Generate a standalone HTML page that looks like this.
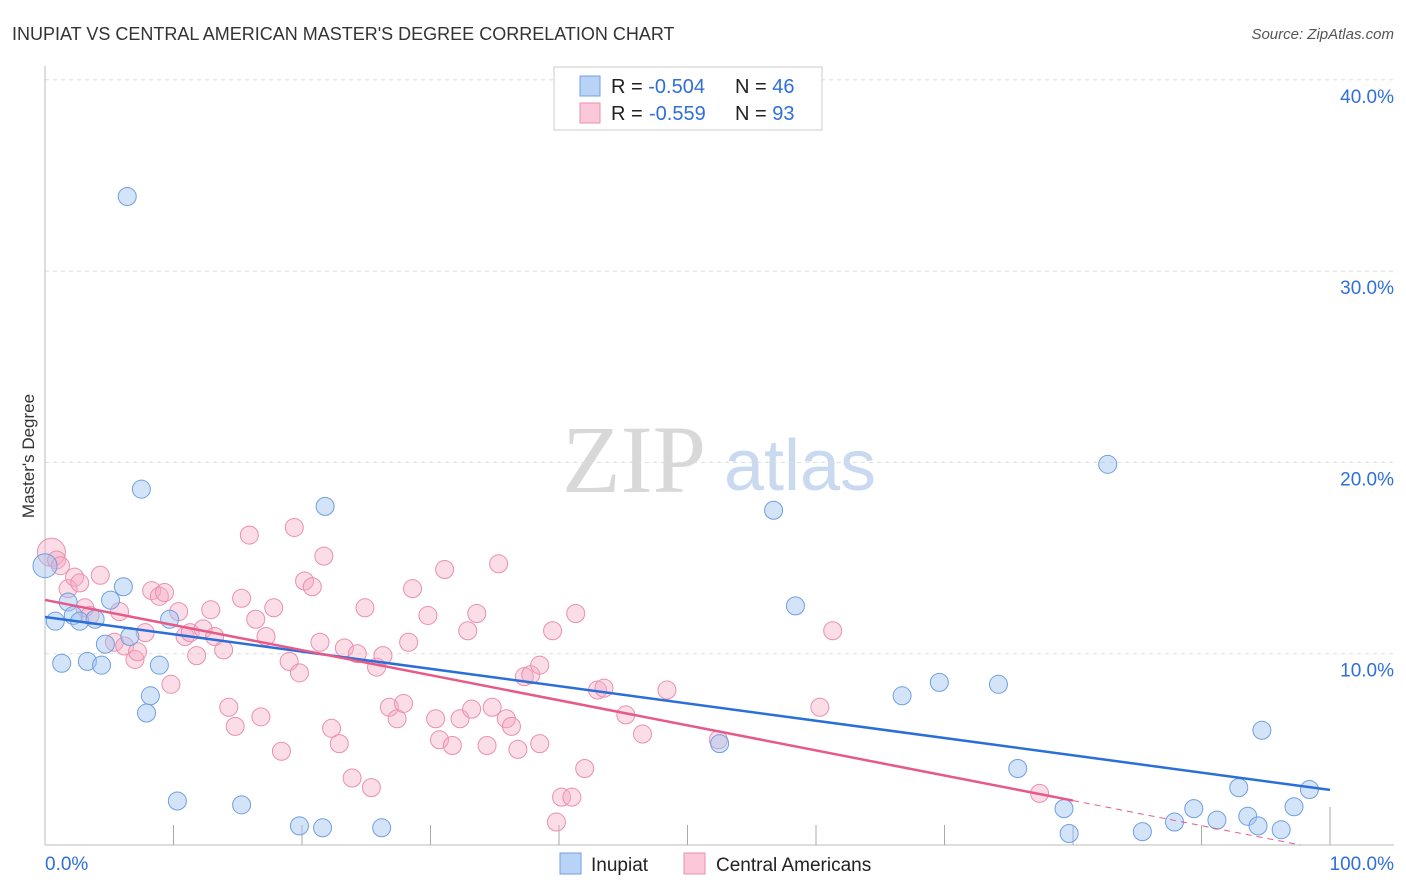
<!DOCTYPE html>
<html><head><meta charset="utf-8"><style>
body{margin:0;background:#fff;font-family:"Liberation Sans",sans-serif;}
#wrap{position:relative;width:1406px;height:892px;overflow:hidden;}
</style></head><body>
<div id="wrap">
<svg id="svg" width="1406" height="892" xmlns="http://www.w3.org/2000/svg">
<text x="12" y="40" font-size="18" fill="#333">INUPIAT VS CENTRAL AMERICAN MASTER'S DEGREE CORRELATION CHART</text>
<text x="1394" y="39" font-size="15" fill="#555" font-style="italic" text-anchor="end">Source: ZipAtlas.com</text>
<text x="34" y="456" font-size="17" fill="#333" text-anchor="middle" transform="rotate(-90 34 456)">Master's Degree</text>
<text x="634" y="492" font-size="96" fill="#d8d8d8" font-family="Liberation Serif,serif" text-anchor="middle">ZIP</text>
<text x="800" y="490" font-size="72" fill="#c9d9f0" text-anchor="middle">atlas</text>
<g id="grid"></g><g id="marks"></g>
<rect x="554" y="67" width="268" height="63" fill="#fff" stroke="#ccc"/>
<rect x="580" y="76" width="20" height="20" fill="#b8d3f5" stroke="#6f9fe0"/>
<rect x="580" y="103" width="20" height="20" fill="#fac8d8" stroke="#eb8fae"/>
<text x="611" y="93" font-size="20" fill="#222">R = <tspan fill="#2e6fd8">-0.504</tspan><tspan x="735">N = </tspan><tspan fill="#2e6fd8">46</tspan></text>
<text x="611" y="120" font-size="20" fill="#222">R = <tspan x="649" fill="#2e6fd8">-0.559</tspan><tspan x="735">N = </tspan><tspan fill="#2e6fd8">93</tspan></text>
<rect x="560" y="853" width="21" height="21" fill="#b8d3f5" stroke="#6f9fe0"/>
<text x="591" y="871" font-size="19" fill="#222">Inupiat</text>
<rect x="684" y="853" width="21" height="21" fill="#fac8d8" stroke="#eb8fae"/>
<text x="716" y="871" font-size="19" fill="#222">Central Americans</text>
<text x="45" y="870" font-size="19" fill="#2e6fd8">0.0%</text>
<text x="1394" y="870" font-size="19" fill="#2e6fd8" text-anchor="end">100.0%</text>
</svg>
</div>
<script>
const yTicks=[10,20,30,40];
const yTickLabels=["10.0%","20.0%","30.0%","40.0%"];
const inupiatX=[6.4,7.5,21.8,56.7,82.7,58.4,0,0.8,1.8,2.2,2.7,3.9,6.1,5.1,6.6,4.7,1.3,3.3,4.4,8.9,9.7,8.2,7.9,10.3,15.3,19.8,21.6,26.2,52.5,66.7,69.6,74.2,75.7,79.3,79.7,85.4,87.9,89.4,91.2,92.9,93.6,94.7,94.4,96.2,97.2,98.4];
const inupiatY=[33.9,18.6,17.7,17.5,19.9,12.5,14.6,11.7,12.7,12.0,11.7,11.8,13.5,12.8,10.9,10.5,9.5,9.6,9.4,9.4,11.8,7.8,6.9,2.3,2.1,1.0,0.9,0.9,5.3,7.8,8.5,8.4,4.0,1.9,0.6,0.7,1.2,1.9,1.3,3.0,1.5,6.0,1.0,0.8,2.0,2.9];
const centralX=[0.5,0.9,1.2,1.8,2.3,2.7,3.1,4.3,3.5,5.8,5.4,6.2,7.0,7.2,7.8,8.3,8.9,9.3,9.8,10.4,10.9,11.3,11.8,12.3,12.9,13.2,13.9,14.3,14.8,15.3,15.9,16.4,16.8,17.2,17.8,18.4,19.0,19.4,19.8,20.2,20.8,21.4,21.7,22.3,22.9,23.3,23.9,24.3,24.9,25.4,25.8,26.3,26.8,27.4,27.9,28.3,28.6,29.8,30.4,30.7,31.1,31.7,32.3,32.9,33.2,33.6,34.4,34.8,35.3,35.9,36.3,36.8,37.3,37.8,38.5,38.5,39.5,39.8,40.2,41.0,41.3,42.0,43.0,43.5,45.2,46.5,48.4,52.4,60.3,61.3,77.4];
const centralY=[15.3,14.9,14.6,13.4,14.0,13.7,12.4,14.1,12.0,12.2,10.6,10.4,9.7,10.1,11.1,13.3,13.0,13.2,8.4,12.2,10.9,11.1,9.9,11.3,12.3,10.9,10.2,7.2,6.2,12.9,16.2,11.8,6.7,10.9,12.4,4.9,9.6,16.6,9.0,13.8,13.5,10.6,15.1,6.1,5.3,10.3,3.5,10.0,12.4,3.0,9.3,9.9,7.2,6.6,7.4,10.6,13.4,12.0,6.6,5.5,14.4,5.2,6.6,11.2,7.1,12.1,5.2,7.2,14.7,6.6,6.2,5.0,8.8,8.9,5.3,9.4,11.2,1.2,2.5,2.5,12.1,4.0,8.1,8.2,6.8,5.8,8.1,5.5,7.2,11.2,2.7];
const blueLine=[11.92,2.88];   // value at 0% and 100%
const pinkLine=[12.81,-0.3];
const pinkSolidEnd=80;

const X0=45,X1=1330,Y0=845,PPU=19.13;
const sx=v=>X0+(X1-X0)*v/100;
const sy=v=>Y0-v*PPU;
const NS="http://www.w3.org/2000/svg";
function mk(tag,attrs,parent){const e=document.createElementNS(NS,tag);for(const k in attrs)e.setAttribute(k,attrs[k]);parent.appendChild(e);return e;}
const grid=document.getElementById('grid'),marks=document.getElementById('marks');
yTicks.forEach((t,i)=>{
  const l=mk('line',{x1:X0,x2:1394,y1:sy(t),y2:sy(t),stroke:'#ddd','stroke-dasharray':'4,4'},grid);
  
  
  const tx=mk('text',{x:1394,y:sy(t)+23,'font-size':19,fill:'#2e6fd8','text-anchor':'end'},grid);
  tx.textContent=yTickLabels[i];
  
  
});
const ax=mk('line',{x1:X0,x2:1394,y1:Y0,y2:Y0,stroke:'#bbb'},grid);


const ay=mk('line',{x1:X0,x2:X0,y1:66,y2:Y0,stroke:'#bbb'},grid);


for(let i=1;i<=10;i++){
  const x=sx(i*10);
  const tk=mk('line',{x1:x,x2:x,y1:(i==10?807:825),y2:Y0,stroke:'#aaa'},grid);
  
  
}
centralX.forEach((v,i)=>{
  const c=mk('circle',{cx:sx(v),cy:sy(centralY[i]),r:i==0?14:9,fill:'rgba(246,170,195,0.4)',stroke:'#eb8fae','stroke-width':1},marks);
  
  
});
inupiatX.forEach((v,i)=>{
  const c=mk('circle',{cx:sx(v),cy:sy(inupiatY[i]),r:i==6?12:9,fill:'rgba(160,195,240,0.45)',stroke:'#6f9fe0','stroke-width':1},marks);
  
  
});
const pv=x=>pinkLine[0]+(pinkLine[1]-pinkLine[0])*x/100;
const bl=mk('line',{x1:sx(0),y1:sy(blueLine[0]),x2:sx(100),y2:sy(blueLine[1]),stroke:'#2a6fd9','stroke-width':2.5},marks);


const pl=mk('line',{x1:sx(0),y1:sy(pinkLine[0]),x2:sx(pinkSolidEnd),y2:sy(pv(pinkSolidEnd)),stroke:'#e65a8a','stroke-width':2.5},marks);


const xe=Math.min(100,pinkLine[0]/(pinkLine[0]-pinkLine[1])*100);
const pd=mk('line',{x1:sx(pinkSolidEnd),y1:sy(pv(pinkSolidEnd)),x2:sx(xe),y2:sy(pv(xe)),stroke:'#e65a8a','stroke-width':1,'stroke-dasharray':'6,5'},marks);


</script>
</body></html>
